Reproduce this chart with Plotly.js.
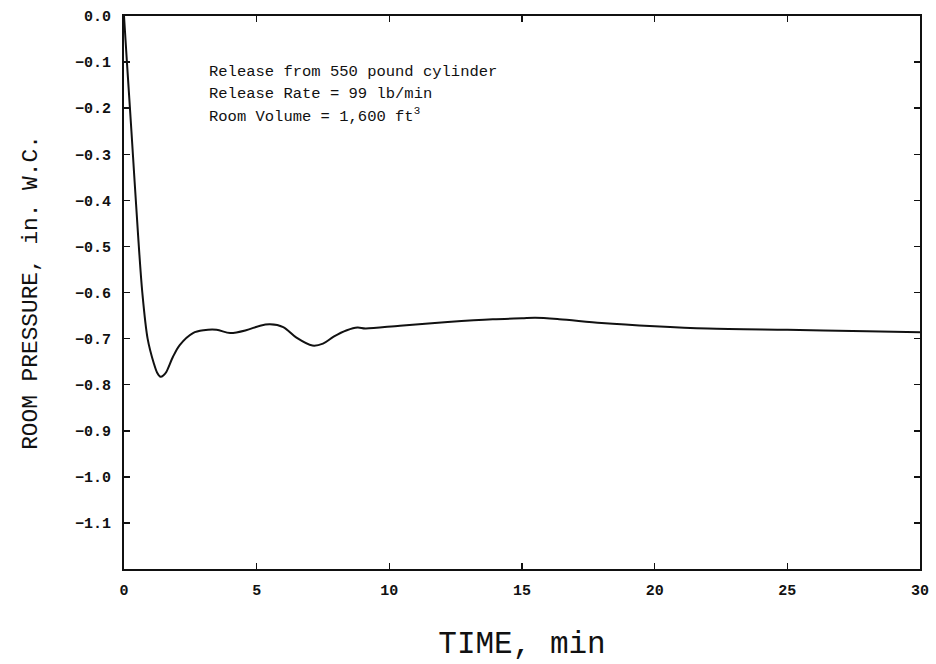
<!DOCTYPE html>
<html>
<head>
<meta charset="utf-8">
<script src="https://cdn.plot.ly/plotly-3.0.1.min.js"></script>
<style>html,body{margin:0;padding:0;background:#fff;}#chart{width:936px;height:664px;}</style>
</head>
<body>
<div id="chart"></div>
<script>
// Time, min
const timeMin = [0, 0.11, 0.28, 0.53, 0.69, 0.89, 1.12, 1.25, 1.38, 1.5, 1.6, 1.85, 2.1, 2.6, 3.0, 3.49, 4.0, 4.6, 5.13, 5.5, 6.0, 6.5, 7.1, 7.5, 7.9, 8.4, 8.8, 9.1, 10.4, 12.2, 13.9, 15.0, 15.5, 16.4, 18, 20, 22, 25, 28, 30];
// Room pressure, in. W.C.
const pressure = [0, -0.1, -0.25, -0.475, -0.6, -0.7, -0.753, -0.774, -0.783, -0.779, -0.772, -0.739, -0.714, -0.688, -0.682, -0.681, -0.688, -0.682, -0.672, -0.669, -0.675, -0.698, -0.715, -0.711, -0.696, -0.682, -0.676, -0.678, -0.672, -0.664, -0.658, -0.656, -0.655, -0.658, -0.666, -0.673, -0.678, -0.681, -0.684, -0.686];
const yTicks = [0, -0.1, -0.2, -0.3, -0.4, -0.5, -0.6, -0.7, -0.8, -0.9, -1.0, -1.1];
const xTicks = [0, 5, 10, 15, 20, 25, 30];
const noteLines = ["Release from 550 pound cylinder", "Release Rate = 99 lb/min", "Room Volume = 1,600 ft<sup>3</sup>"];
const noteY = [-0.122, -0.169, -0.216];

const mono = "Liberation Mono, Courier New, monospace";

const trace = {
  x: timeMin, y: pressure, type: 'scatter', mode: 'lines',
  line: {color: '#111', width: 2, shape: 'spline', smoothing: 0.9},
  hoverinfo: 'skip', showlegend: false
};

const annotations = noteLines.map((t, i) => ({
  x: 3.13, y: noteY[i], xref: 'x', yref: 'y', xanchor: 'left', yanchor: 'middle',
  text: t, showarrow: false, font: {family: mono, size: 15.5, color: '#111'}
}));

const layout = {
  width: 936, height: 664,
  margin: {l: 124, r: 16, t: 16, b: 95},
  paper_bgcolor: '#fff', plot_bgcolor: '#fff',
  showlegend: false,
  xaxis: {
    range: [0, 30], tickvals: xTicks, ticktext: xTicks.map(String),
    ticks: 'inside', ticklen: 6, tickwidth: 1.5, tickcolor: '#111',
    showline: true, linecolor: '#111', linewidth: 2, mirror: 'ticks',
    showgrid: false, zeroline: false, ticklabelstandoff: 6,
    tickfont: {family: mono, size: 15, color: '#111', weight: 'bold'},
    title: {text: 'TIME, min', font: {family: mono, size: 31, color: '#111'}, standoff: 32}
  },
  yaxis: {
    range: [-1.2, 0], tickvals: yTicks, tickformat: '.1f',
    ticks: 'inside', ticklen: 6, tickwidth: 1.5, tickcolor: '#111',
    showline: true, linecolor: '#111', linewidth: 2, mirror: 'ticks',
    showgrid: false, zeroline: false, ticklabelstandoff: 8,
    tickfont: {family: mono, size: 15, color: '#111', weight: 'bold'},
    title: {text: 'ROOM PRESSURE, in. W.C.', font: {family: mono, size: 22.8, color: '#111'}, standoff: 31}
  },
  annotations: annotations
};

Plotly.newPlot('chart', [trace], layout, {displayModeBar: false, staticPlot: true});
</script>
</body>
</html>
